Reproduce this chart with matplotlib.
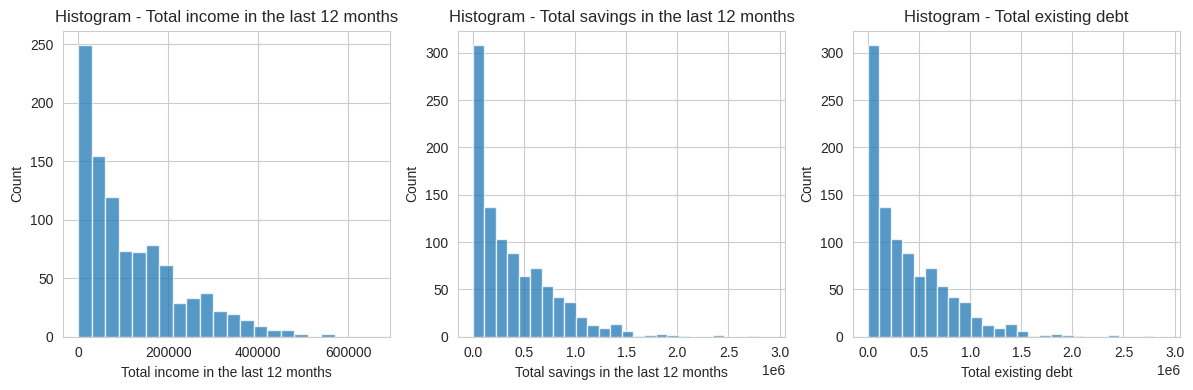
import numpy as np
import matplotlib
matplotlib.use("Agg")
import matplotlib.pyplot as plt
import seaborn as sns

# counts
income_start = 0
income_width = 30000
income_counts = [249, 154, 119, 73, 72, 78, 61, 29, 33, 37, 22, 19, 14, 9, 6, 6, 2, 0, 2, 0, 0, 0]

savings_start = 0
savings_width = 111800
savings_counts = [308, 137, 103, 88, 64, 72, 54, 42, 37, 21, 12, 9, 13, 6, 1, 2, 3, 2, 1, 0, 0, 2, 0, 0, 1, 0]

debt_start = 0
debt_width = 111800
debt_counts = [308, 137, 103, 88, 64, 72, 54, 42, 37, 21, 12, 9, 13, 6, 1, 2, 3, 2, 1, 0, 0, 2, 0, 0, 1, 0]

labels = ["Total income in the last 12 months",
          "Total savings in the last 12 months",
          "Total existing debt"]

sns.set_style("whitegrid")
plt.rcParams['font.family'] = ['Liberation Sans', 'DejaVu Sans']

fig, axes = plt.subplots(1, 3, figsize=(11.93, 3.9), dpi=100)
plt.subplots_adjust(left=0.053, right=0.989, bottom=0.137, top=0.921, wspace=0.209)

panels = [(income_start, income_width, income_counts),
          (savings_start, savings_width, savings_counts),
          (debt_start, debt_width, debt_counts)]

for ax, (start, width, counts), label in zip(axes, panels, labels):
    counts = np.array(counts)
    edges = start + width * np.arange(len(counts) + 1)
    ax.bar(edges[:-1], counts, width=width, align='edge', color='#1f77b4',
           alpha=0.75, edgecolor='white', linewidth=1.0)
    span = edges[-1] - edges[0]
    ax.set_xlim(edges[0] - 0.05 * span, edges[-1] + 0.05 * span)
    ax.set_xlabel(label)
    ax.set_ylabel("Count")
    ax.set_title("Histogram - " + label)

fig.savefig("out.png", dpi=100)
